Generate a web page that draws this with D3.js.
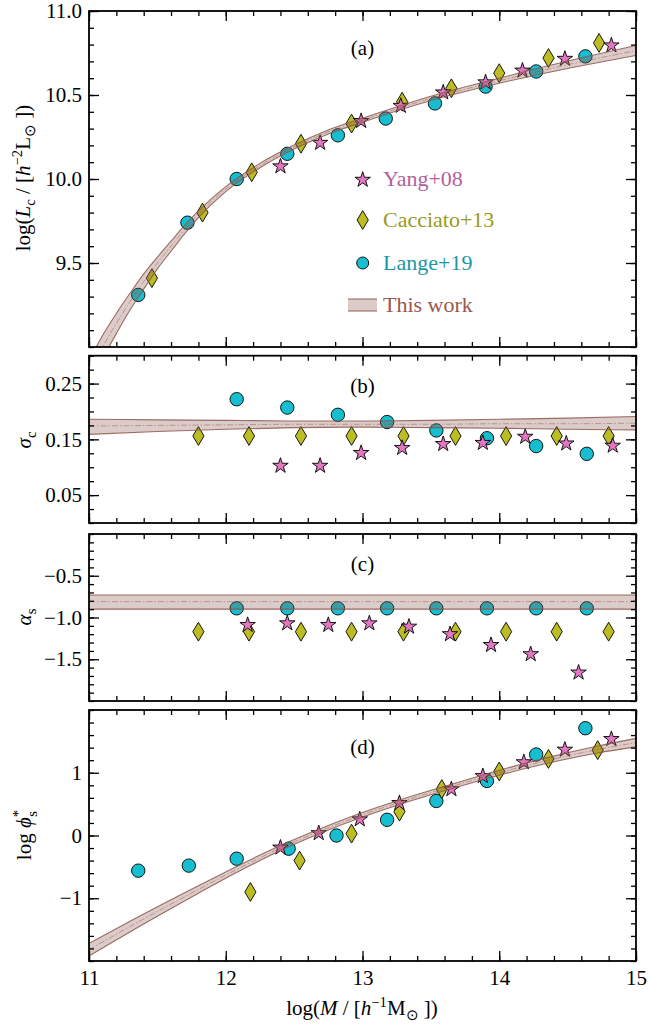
<!DOCTYPE html>
<html>
<head>
<meta charset="utf-8">
<script src="https://cdn.jsdelivr.net/npm/d3@7"></script>
<style>
  body { margin: 0; background: #fff; }
  svg { display: block; }
</style>
</head>
<body>
<script>
'use strict';

// ---- data ----
var xTicks = [11, 12, 13, 14, 15];

// (a) log L_c
var aYangX = [12.40, 12.69, 12.99, 13.28, 13.59, 13.90, 14.17, 14.48, 14.82];
var aYangY = [10.08, 10.22, 10.35, 10.44, 10.52, 10.58, 10.65, 10.72, 10.80];
var aCaccX = [11.46, 11.83, 12.19, 12.55, 12.92, 13.29, 13.65, 14.00, 14.36, 14.73];
var aCaccY = [9.41, 9.80, 10.04, 10.21, 10.33, 10.46, 10.54, 10.63, 10.72, 10.81];
var aLangeX = [11.36, 11.72, 12.08, 12.45, 12.82, 13.17, 13.53, 13.90, 14.27, 14.63];
var aLangeY = [9.31, 9.74, 10.00, 10.15, 10.26, 10.36, 10.45, 10.55, 10.64, 10.73];
var aFitX = [11.0, 11.1, 11.2, 11.3, 11.4, 11.5, 11.6, 11.7, 11.8, 12.0, 12.25, 12.5, 12.75, 13.0, 13.5, 14.0, 14.5, 15.0];
var aFitMid = [8.84, 9.00, 9.14, 9.27, 9.39, 9.50, 9.60, 9.70, 9.79, 9.94, 10.08, 10.19, 10.28, 10.35, 10.48, 10.585, 10.68, 10.765];
var aFitLo = [8.76, 8.93, 9.08, 9.22, 9.345, 9.465, 9.57, 9.675, 9.77, 9.925, 10.067, 10.178, 10.268, 10.338, 10.467, 10.57, 10.658, 10.735];
var aFitHi = [8.92, 9.07, 9.20, 9.32, 9.435, 9.535, 9.63, 9.725, 9.81, 9.955, 10.093, 10.202, 10.292, 10.362, 10.493, 10.60, 10.702, 10.795];

// (b) sigma_c
var bYangX = [12.40, 12.69, 12.99, 13.29, 13.59, 13.88, 14.19, 14.49, 14.83];
var bYangY = [0.104, 0.104, 0.127, 0.136, 0.143, 0.145, 0.156, 0.144, 0.140];
var bCaccX = [11.80, 12.17, 12.55, 12.92, 13.30, 13.68, 14.05, 14.42, 14.80];
var bCaccY = [0.156, 0.156, 0.156, 0.156, 0.156, 0.156, 0.156, 0.156, 0.156];
var bLangeX = [12.08, 12.45, 12.82, 13.18, 13.54, 13.91, 14.27, 14.64];
var bLangeY = [0.222, 0.207, 0.194, 0.181, 0.166, 0.152, 0.138, 0.124];
var bFitX = [11, 11.5, 12, 12.5, 13, 13.5, 14, 14.5, 15];
var bFitMid = [0.174, 0.175, 0.176, 0.177, 0.177, 0.177, 0.178, 0.178, 0.179];
var bFitLo = [0.159, 0.164, 0.168, 0.171, 0.172, 0.171, 0.170, 0.168, 0.167];
var bFitHi = [0.186, 0.185, 0.184, 0.183, 0.183, 0.184, 0.186, 0.188, 0.191];

// (c) alpha_s
var cYangX = [12.16, 12.45, 12.75, 13.05, 13.34, 13.64, 13.94, 14.23, 14.58];
var cYangY = [-1.08, -1.06, -1.08, -1.06, -1.10, -1.19, -1.32, -1.43, -1.65];
var cCaccX = [11.80, 12.17, 12.55, 12.92, 13.30, 13.68, 14.05, 14.42, 14.80];
var cCaccY = [-1.17, -1.17, -1.17, -1.17, -1.17, -1.17, -1.17, -1.17, -1.17];
var cLangeX = [12.08, 12.45, 12.82, 13.18, 13.54, 13.91, 14.27, 14.64];
var cLangeY = [-0.89, -0.89, -0.89, -0.89, -0.89, -0.89, -0.89, -0.89];
var cFitX = [11, 15];
var cFitMid = [-0.81, -0.81];
var cFitLo = [-0.90, -0.90];
var cFitHi = [-0.73, -0.73];

// (d) log phi*_s
var dYangX = [12.40, 12.68, 12.98, 13.27, 13.65, 13.88, 14.18, 14.48, 14.82];
var dYangY = [-0.18, 0.05, 0.27, 0.53, 0.75, 0.96, 1.18, 1.38, 1.55];
var dCaccX = [12.18, 12.54, 12.92, 13.27, 13.58, 14.00, 14.36, 14.72];
var dCaccY = [-0.90, -0.40, 0.03, 0.38, 0.74, 1.02, 1.22, 1.36];
var dLangeX = [11.36, 11.73, 12.08, 12.46, 12.81, 13.18, 13.54, 13.91, 14.27, 14.63];
var dLangeY = [-0.56, -0.48, -0.37, -0.21, 0.00, 0.25, 0.55, 0.87, 1.29, 1.71];
var dFitX = [11.0, 11.4, 11.8, 12.0, 12.2, 12.4, 12.7, 13.0, 13.3, 13.65, 14.0, 14.36, 14.72, 15.0];
var dFitMid = [-1.82, -1.33, -0.86, -0.63, -0.41, -0.20, 0.08, 0.33, 0.55, 0.78, 1.00, 1.20, 1.37, 1.48];
var dFitLo = [-1.92, -1.41, -0.92, -0.68, -0.455, -0.24, 0.045, 0.295, 0.515, 0.745, 0.96, 1.155, 1.315, 1.412];
var dFitHi = [-1.72, -1.25, -0.80, -0.58, -0.365, -0.16, 0.115, 0.365, 0.585, 0.815, 1.04, 1.245, 1.425, 1.548];

var legendLabels = ["Yang+08", "Cacciato+13", "Lange+19", "This work"];

// ---- layout ----
var width = 648, height = 1024;
var left = 89, right = 636;
var fs = 21;
var serif = "'Liberation Serif'";

var cYang = "#e377c2", cCacc = "#bcbd22", cLange = "#17becf", cFit = "#8c564b";
var txtCols = ["#b4609c", "#9a9a1c", "#1a97a5", "#98574e"];

var svg = d3.select("body").append("svg")
    .attr("width", width)
    .attr("height", height)
    .style("font-family", serif);

var x = d3.scaleLinear().domain([11, 15]).range([left, right]);

var starSym = d3.symbol().type(d3.symbolStar).size(74);
var diamondType = {
  draw: function(ctx, size) {
    var w = 5.6, h = 9.4;
    ctx.moveTo(0, -h); ctx.lineTo(w, 0); ctx.lineTo(0, h); ctx.lineTo(-w, 0); ctx.closePath();
  }
};
var diamondSym = d3.symbol().type(diamondType);

function zip(xs, ys) { return xs.map(function(v, i) { return {x: v, y: ys[i]}; }); }
function fitRows(xs, mid, lo, hi) {
  return xs.map(function(v, i) { return {x: v, m: mid[i], lo: lo[i], hi: hi[i]}; });
}

var panels = [
  {id: "a", top: 11, bottom: 347, domain: [9, 11], major: [9.5, 10, 10.5, 11], minor: d3.range(0, 21).map(function(i) { return 9 + i * 0.1; }),
   fmt: d3.format(".1f"), tagY: 55,
   yang: zip(aYangX, aYangY), cacc: zip(aCaccX, aCaccY), lange: zip(aLangeX, aLangeY), fit: fitRows(aFitX, aFitMid, aFitLo, aFitHi)},
  {id: "b", top: 355.7, bottom: 523, domain: [0, 0.3], major: [0.05, 0.15, 0.25], minor: d3.range(0, 13).map(function(i) { return i * 0.025; }),
   fmt: d3.format(".2f"), tagY: 393,
   yang: zip(bYangX, bYangY), cacc: zip(bCaccX, bCaccY), lange: zip(bLangeX, bLangeY), fit: fitRows(bFitX, bFitMid, bFitLo, bFitHi)},
  {id: "c", top: 534, bottom: 701, domain: [-2, 0], major: [-1.5, -1.0, -0.5], minor: d3.range(0, 21).map(function(i) { return -2 + i * 0.1; }),
   fmt: d3.format(".1f"), tagY: 571,
   yang: zip(cYangX, cYangY), cacc: zip(cCaccX, cCaccY), lange: zip(cLangeX, cLangeY), fit: fitRows(cFitX, cFitMid, cFitLo, cFitHi)},
  {id: "d", top: 710, bottom: 961, domain: [-2, 2], major: [-1, 0, 1], minor: d3.range(0, 21).map(function(i) { return -2 + i * 0.2; }),
   fmt: d3.format("d"), tagY: 754,
   yang: zip(dYangX, dYangY), cacc: zip(dCaccX, dCaccY), lange: zip(dLangeX, dLangeY), fit: fitRows(dFitX, dFitMid, dFitLo, dFitHi)}
];

var xMinor = d3.range(0, 21).map(function(i) { return 11 + i * 0.2; });

function styleAxis(g) {
  g.attr("font-family", null).attr("font-size", null);
  g.select(".domain").remove();
  g.selectAll(".tick line").attr("stroke", "#000").attr("stroke-width", 1.3);
  g.selectAll(".tick text").attr("fill", "#000")
    .style("font-family", serif).style("font-size", fs + "px");
}

panels.forEach(function(p, pi) {
  var y = d3.scaleLinear().domain(p.domain).range([p.bottom, p.top]);
  var g = svg.append("g").attr("class", "panel-" + p.id);

  svg.append("clipPath").attr("id", "clip-" + p.id)
    .append("rect").attr("x", left).attr("y", p.top)
    .attr("width", right - left).attr("height", p.bottom - p.top);

  // markers
  var mk = g.append("g").attr("clip-path", "url(#clip-" + p.id + ")");
  mk.selectAll("circle.lange").data(p.lange).enter().append("circle")
    .attr("class", "lange")
    .attr("cx", function(d) { return x(d.x); })
    .attr("cy", function(d) { return y(d.y); })
    .attr("r", 6.7)
    .attr("fill", cLange).attr("stroke", "#000").attr("stroke-width", 0.9);
  mk.selectAll("path.cacc").data(p.cacc).enter().append("path")
    .attr("class", "cacc")
    .attr("d", diamondSym)
    .attr("transform", function(d) { return "translate(" + x(d.x) + "," + y(d.y) + ")"; })
    .attr("fill", cCacc).attr("stroke", "#000").attr("stroke-width", 0.9);
  mk.selectAll("path.yang").data(p.yang).enter().append("path")
    .attr("class", "yang")
    .attr("d", starSym)
    .attr("transform", function(d) { return "translate(" + x(d.x) + "," + (y(d.y) + 0.8) + ")"; })
    .attr("fill", cYang).attr("stroke", "#000").attr("stroke-width", 0.9);

  // fit band (drawn over the points, semi-transparent)
  var band = g.append("g").attr("clip-path", "url(#clip-" + p.id + ")");
  var area = d3.area().curve(d3.curveMonotoneX)
    .x(function(d) { return x(d.x); })
    .y0(function(d) { return y(d.lo); })
    .y1(function(d) { return y(d.hi); });
  var lineOf = function(key) {
    return d3.line().curve(d3.curveMonotoneX)
      .x(function(d) { return x(d.x); })
      .y(function(d) { return y(d[key]); });
  };
  band.append("path").attr("d", area(p.fit))
    .attr("fill", cFit).attr("fill-opacity", 0.3).attr("stroke", "none");
  ["lo", "hi"].forEach(function(k) {
    band.append("path").attr("d", lineOf(k)(p.fit))
      .attr("fill", "none").attr("stroke", cFit).attr("stroke-opacity", 0.85).attr("stroke-width", 1.1);
  });
  band.append("path").attr("d", lineOf("m")(p.fit))
    .attr("fill", "none").attr("stroke", cFit).attr("stroke-opacity", 0.6)
    .attr("stroke-width", 0.8).attr("stroke-dasharray", "6,2,1.5,2");

  // axes: ticks inward on all four sides
  var last = pi === panels.length - 1;
  g.append("g").attr("transform", "translate(" + left + ",0)")
    .call(d3.axisLeft(y).tickValues(p.minor).tickSize(-5).tickFormat("")).call(styleAxis);
  g.append("g").attr("transform", "translate(" + left + ",0)")
    .call(d3.axisLeft(y).tickValues(p.major).tickSize(-10).tickPadding(7).tickFormat(p.fmt)).call(styleAxis);
  g.append("g").attr("transform", "translate(" + right + ",0)")
    .call(d3.axisRight(y).tickValues(p.minor).tickSize(-5).tickFormat("")).call(styleAxis);
  g.append("g").attr("transform", "translate(" + right + ",0)")
    .call(d3.axisRight(y).tickValues(p.major).tickSize(-10).tickFormat("")).call(styleAxis);
  g.append("g").attr("transform", "translate(0," + p.top + ")")
    .call(d3.axisTop(x).tickValues(xMinor).tickSize(-5).tickFormat("")).call(styleAxis);
  g.append("g").attr("transform", "translate(0," + p.top + ")")
    .call(d3.axisTop(x).tickValues(xTicks).tickSize(-10).tickFormat("")).call(styleAxis);
  g.append("g").attr("transform", "translate(0," + p.bottom + ")")
    .call(d3.axisBottom(x).tickValues(xMinor).tickSize(-5).tickFormat("")).call(styleAxis);
  g.append("g").attr("transform", "translate(0," + p.bottom + ")")
    .call(d3.axisBottom(x).tickValues(xTicks).tickSize(-10).tickPadding(9)
      .tickFormat(last ? d3.format("d") : "")).call(styleAxis);

  g.append("rect").attr("x", left).attr("y", p.top)
    .attr("width", right - left).attr("height", p.bottom - p.top)
    .attr("fill", "none").attr("stroke", "#000").attr("stroke-width", 1.8);

  g.append("text").attr("x", 362.5).attr("y", p.tagY)
    .attr("text-anchor", "middle").style("font-size", fs + "px").style("font-family", serif)
    .text("(" + p.id + ")");
});

// ---- labels with sub/superscripts ----
function rich(sel, parts) {
  var shift = 0;
  parts.forEach(function(q) {
    var s = q.s || 0;
    var ts = sel.append("tspan").text(q.t).attr("dy", s - shift);
    if (q.dx) ts.attr("dx", q.dx);
    if (q.i) ts.style("font-style", "italic");
    if (s) ts.style("font-size", "70%");
    shift = s;
  });
}

function yLabel(cx, cy, parts) {
  var t = svg.append("text")
    .attr("transform", "translate(" + cx + "," + cy + ") rotate(-90)")
    .attr("text-anchor", "middle")
    .style("font-family", serif)
    .style("font-size", fs + "px");
  rich(t, parts);
}

yLabel(30, 178, [
  {t: "log("}, {t: "L", i: 1}, {t: "c", s: 5}, {t: " / ["}, {t: "h", i: 1}, {t: "\u22122", s: -8},
  {t: "L"}, {t: "\u2299", s: 5}, {t: " ])"}
]);
yLabel(31, 440, [{t: "\u03c3", i: 1}, {t: "c", s: 5}]);
yLabel(31, 617, [{t: "\u03b1", i: 1}, {t: "s", s: 5}]);
yLabel(31, 835, [{t: "log "}, {t: "\u03d5", i: 1}, {t: "*", s: -8}, {t: "s", s: 6, dx: -7}]);

var xl = svg.append("text").attr("x", 362).attr("y", 1015)
  .attr("text-anchor", "middle").style("font-family", serif).style("font-size", fs + "px");
rich(xl, [
  {t: "log("}, {t: "M", i: 1}, {t: " / ["}, {t: "h", i: 1}, {t: "\u22121", s: -8},
  {t: "M"}, {t: "\u2299", s: 5}, {t: " ])"}
]);

// ---- legend ----
var lg = svg.append("g");
var legY = [179, 220, 263, 305];
var lx = 362.7;
lg.append("path").attr("d", starSym).attr("transform", "translate(" + lx + "," + (legY[0] + 0.8) + ")")
  .attr("fill", cYang).attr("stroke", "#000").attr("stroke-width", 0.9);
lg.append("path").attr("d", diamondSym).attr("transform", "translate(" + lx + "," + legY[1] + ")")
  .attr("fill", cCacc).attr("stroke", "#000").attr("stroke-width", 0.9);
lg.append("circle").attr("cx", lx).attr("cy", legY[2]).attr("r", 6)
  .attr("fill", cLange).attr("stroke", "#000").attr("stroke-width", 0.9);
lg.append("rect").attr("x", 348).attr("y", legY[3] - 6).attr("width", 29).attr("height", 12)
  .attr("fill", cFit).attr("fill-opacity", 0.3);
[legY[3] - 6, legY[3] + 6].forEach(function(yy) {
  lg.append("line").attr("x1", 348).attr("x2", 377).attr("y1", yy).attr("y2", yy)
    .attr("stroke", cFit).attr("stroke-opacity", 0.85).attr("stroke-width", 1.1);
});
legendLabels.forEach(function(lab, i) {
  lg.append("text").attr("x", 383).attr("y", legY[i] + 7)
    .style("font-family", serif)
    .style("font-size", "22px").attr("fill", txtCols[i]).text(lab);
});
</script>
</body>
</html>
